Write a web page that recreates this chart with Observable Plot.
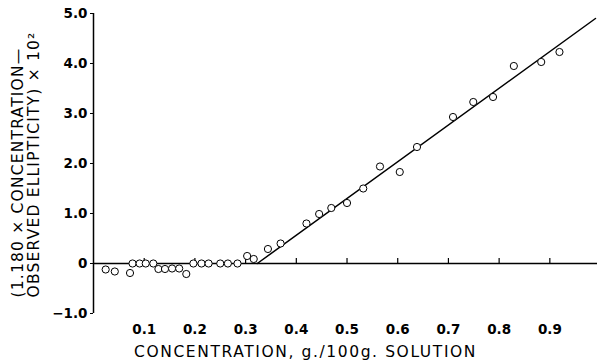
<!DOCTYPE html>
<html>
<head>
<meta charset="utf-8">
<script src="https://cdn.jsdelivr.net/npm/d3@7"></script>
<script src="https://cdn.jsdelivr.net/npm/@observablehq/plot@0.6"></script>
<style>
  html, body { margin: 0; padding: 0; background: #fff; }
</style>
</head>
<body>
<div id="chart"></div>
<script>
// Observed points
const conc = [0.024,0.042,0.072,0.077,0.091,0.103,0.118,0.128,0.141,0.155,0.169,0.183,0.197,0.213,0.227,0.250,0.265,0.284,0.303,0.316,0.344,0.369,0.420,0.445,0.469,0.500,0.532,0.565,0.604,0.638,0.709,0.749,0.788,0.829,0.883,0.919];
const values = [-0.12,-0.16,-0.19,0,0,0,0,-0.11,-0.11,-0.10,-0.10,-0.21,0,0,0,0,0,0,0.15,0.09,0.29,0.40,0.80,0.99,1.11,1.21,1.50,1.94,1.83,2.33,2.93,3.23,3.33,3.95,4.03,4.23];

// Fitted straight line
const fitX = [0.323, 0.99];
const fitY = [0, 4.9];

// Axis ticks
const xTicks = [0.1,0.2,0.3,0.4,0.5,0.6,0.7,0.8,0.9];
const xTickLabels = ["0.1","0.2","0.3","0.4","0.5","0.6","0.7","0.8","0.9"];
const yTicks = [-1,0,1,2,3,4,5];
const yTickLabels = ["\u22121.0","0","1.0","2.0","3.0","4.0","5.0"];

const xTitle = "CONCENTRATION, g./100g. SOLUTION";
const yTitle1 = "(1.180 \u00d7 CONCENTRATION\u2014";
const yTitle2 = "OBSERVED ELLIPTICITY) \u00d7 10\u00b2";

const points = conc.map((c, i) => ({x: c, y: values[i]}));
const fit = fitX.map((c, i) => ({x: c, y: fitY[i]}));

const titleFont = "'DejaVu Sans', sans-serif";
const tickFont = "'DejaVu Sans', sans-serif";

const chart = Plot.plot({
  width: 597,
  height: 360,
  marginLeft: 93,
  marginRight: 0,
  marginTop: 13,
  marginBottom: 47,
  style: {fontFamily: tickFont, background: "#fff", color: "#000"},
  x: {domain: [0, 0.994]},
  y: {domain: [-1, 5]},
  marks: [
    Plot.ruleY([0], {stroke: "#000", strokeWidth: 1.5}),
    Plot.ruleX([0], {y1: -1, y2: 5, stroke: "#000", strokeWidth: 1.5}),
    Plot.ruleX(xTicks, {y1: 0, y2: 0.1, stroke: "#000", strokeWidth: 1.2}),
    Plot.axisY({ticks: yTicks, tickFormat: (d) => yTickLabels[yTicks.indexOf(d)], tickSize: 3, tickPadding: 3, fontSize: 13.5, fontWeight: "bold", label: null, stroke: "#000"}),
    Plot.axisX({ticks: xTicks, tickFormat: (d) => xTickLabels[xTicks.indexOf(d)], tickSize: 0, tickPadding: 11, fontSize: 13.5, fontWeight: "bold", label: null}),
    Plot.line(fit, {x: "x", y: "y", stroke: "#000", strokeWidth: 1.5}),
    Plot.dot(points, {x: "x", y: "y", r: 3.6, stroke: "#000", fill: "#fff", strokeWidth: 1}),
    Plot.text([xTitle], {frameAnchor: "bottom", textAnchor: "middle", lineAnchor: "middle", dx: -40, dy: 39, text: (d) => d, fontSize: 15.5, fontFamily: titleFont, fill: "#000"}),
    Plot.text([yTitle1], {frameAnchor: "left", textAnchor: "middle", lineAnchor: "middle", dx: -75, dy: 9, rotate: -90, text: (d) => d, fontSize: 15.5, fontFamily: titleFont, fill: "#000"}),
    Plot.text([yTitle2], {frameAnchor: "left", textAnchor: "middle", lineAnchor: "middle", dx: -59, dy: 1, rotate: -90, text: (d) => d, fontSize: 15.5, fontFamily: titleFont, fill: "#000"})
  ]
});
document.getElementById("chart").appendChild(chart);

// widen title letter spacing to match the reference typeface
d3.select(chart).selectAll("text").each(function () {
  const t = this.textContent;
  if (t === xTitle) this.style.letterSpacing = "1.6px";
  if (t === yTitle1 || t === yTitle2) this.style.letterSpacing = "1.2px";
});
</script>
</body>
</html>
